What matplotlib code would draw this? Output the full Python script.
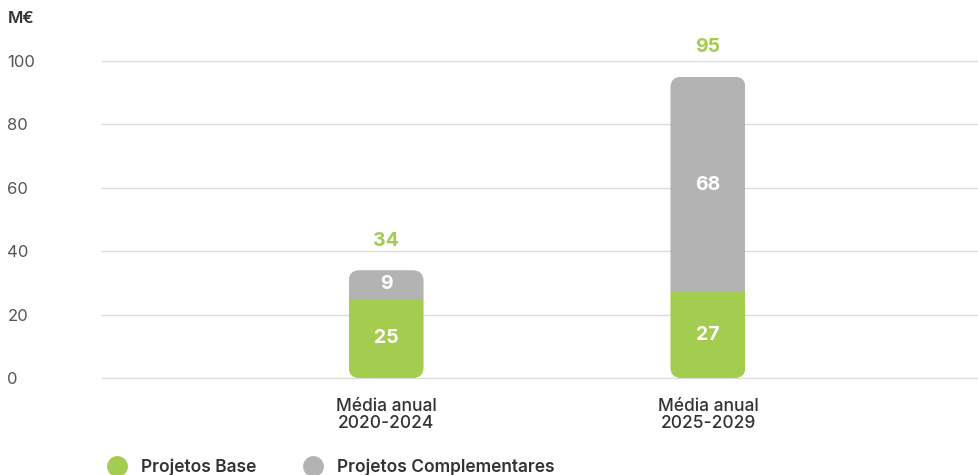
import matplotlib
matplotlib.use("Agg")
import matplotlib.pyplot as plt
from matplotlib.patches import FancyBboxPatch
from matplotlib.lines import Line2D

plt.rcParams['font.family'] = ['Inter', 'DejaVu Sans']

# average annual investment, M€
periods = ['Média anual\n2020-2024', 'Média anual\n2025-2029']
base = [25, 27]
complementares = [9, 68]
totals = [b + c for b, c in zip(base, complementares)]

GREEN = '#a4cc4f'
GREY = '#b3b3b3'
TEXT = '#333333'

fig = plt.figure(figsize=(9.79, 4.75), dpi=100)
ax = fig.add_axes([0.104, 0.204, 0.896, 0.668])

xs = list(range(len(periods)))
width = 0.233
ax.set_xlim(-0.883, 1.842)
ax.set_ylim(0, 100)

# rounded outline of each stack, used to clip the segments
fig.canvas.draw()
px = ax.transData.transform([(0, 0), (1, 1)])
aspect = (px[1][0] - px[0][0]) / (px[1][1] - px[0][1])
r = 11 / (px[1][0] - px[0][0])

for x, b, c, t in zip(xs, base, complementares, totals):
    clip = FancyBboxPatch((x - width / 2, 0), width, t,
                          boxstyle=f'round,pad=0,rounding_size={r}',
                          mutation_aspect=aspect,
                          transform=ax.transData, facecolor='none', edgecolor='none')
    ax.add_patch(clip)
    lo = ax.bar(x, b, width, color=GREEN, zorder=3)
    hi = ax.bar(x, c, width, bottom=b, color=GREY, zorder=3)
    for rect in list(lo) + list(hi):
        rect.set_clip_path(clip)

    ax.text(x, b / 2, f'{b}', ha='center', va='center', color='white',
            fontsize=14, fontweight='bold', zorder=4)
    ax.text(x, b + c / 2, f'{c}', ha='center', va='center', color='white',
            fontsize=14, fontweight='bold', zorder=4)
    ax.annotate(f'{t}', (x, t), xytext=(0, 21), textcoords='offset points',
                ha='center', va='center', color=GREEN, fontsize=14,
                fontweight='bold', annotation_clip=False)

ax.set_yticks([0, 20, 40, 60, 80, 100])
ax.set_xticks(xs)
ax.set_xticklabels(periods, fontsize=12.5, color=TEXT, fontweight='medium',
                   linespacing=1.05)
ax.tick_params(axis='x', length=0, pad=14)
ax.tick_params(axis='y', length=0, labelsize=12, labelcolor='#555555', pad=68)
for lbl in ax.get_yticklabels():
    lbl.set_horizontalalignment('left')

ax.grid(axis='y', color='#dcdcdc', linewidth=1)
for gl in ax.get_ygridlines():
    gl.set_clip_on(False)
ax.set_axisbelow(True)
for s in ax.spines.values():
    s.set_visible(False)

fig.text(0.008, 0.962, 'M€', fontsize=12, fontweight='semibold', color=TEXT,
         va='center', ha='left')

handles = [Line2D([], [], marker='o', linestyle='none', markersize=15,
                  markerfacecolor=GREEN, markeredgecolor='none'),
           Line2D([], [], marker='o', linestyle='none', markersize=15,
                  markerfacecolor=GREY, markeredgecolor='none')]
fig.legend(handles, ['Projetos Base', 'Projetos Complementares'],
           loc='center left', bbox_to_anchor=(0.086, 0.017), ncol=2,
           frameon=False, handletextpad=0.35, columnspacing=2.3,
           labelcolor=TEXT, prop={'weight': 'semibold', 'size': 12.5})

fig.savefig('out.png', dpi=100, facecolor='white')
